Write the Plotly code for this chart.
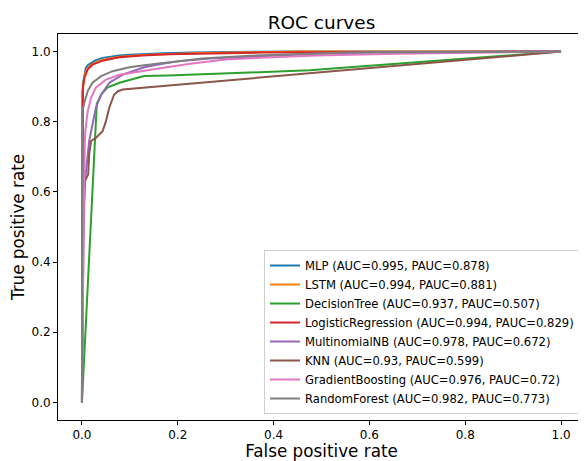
import plotly.graph_objects as go

# ---- data ----
models = ["MLP", "LSTM", "DecisionTree", "LogisticRegression",
          "MultinomialNB", "KNN", "GradientBoosting", "RandomForest"]
auc = ["0.995", "0.994", "0.937", "0.994", "0.978", "0.93", "0.976", "0.982"]
pauc = ["0.878", "0.881", "0.507", "0.829", "0.672", "0.599", "0.72", "0.773"]
colors = ["#1f77b4", "#ff7f0e", "#2ca02c", "#d62728",
          "#9467bd", "#8c564b", "#e377c2", "#7f7f7f"]

mlp_fpr = [0, 0, 0.001, 0.003, 0.005, 0.008, 0.012, 0.019, 0.028, 0.043, 0.06, 0.078, 0.1, 0.126, 0.17, 0.23, 0.3, 0.45, 1.0]
mlp_tpr = [0, 0.80, 0.88, 0.915, 0.935, 0.953, 0.961, 0.968, 0.975, 0.982, 0.986, 0.989, 0.991, 0.993, 0.995, 0.997, 0.999, 1.0, 1.0]

lstm_fpr = [0, 0, 0.001, 0.003, 0.006, 0.01, 0.016, 0.025, 0.04, 0.06, 0.08, 0.126, 0.18, 0.25, 0.35, 0.46, 1.0]
lstm_tpr = [0, 0.70, 0.86, 0.91, 0.935, 0.948, 0.959, 0.966, 0.975, 0.981, 0.985, 0.99, 0.993, 0.996, 0.998, 1.0, 1.0]

dt_fpr = [0, 0.031, 0.04, 0.053, 0.078, 0.106, 0.13, 0.18, 0.232, 0.30, 0.37, 0.475, 1.0]
dt_tpr = [0, 0.852, 0.877, 0.897, 0.911, 0.922, 0.93, 0.932, 0.934, 0.937, 0.941, 0.947, 1.0]

lr_fpr = [0, 0.001, 0.001, 0.002, 0.005, 0.012, 0.022, 0.043, 0.078, 0.126, 0.18, 0.26, 0.37, 0.5, 0.62, 1.0]
lr_tpr = [0, 0.55, 0.80, 0.897, 0.925, 0.949, 0.963, 0.974, 0.984, 0.989, 0.992, 0.995, 0.997, 0.998, 0.999, 1.0]

nb_fpr = [0, 0.002, 0.005, 0.012, 0.015, 0.022, 0.029, 0.04, 0.057, 0.085, 0.13, 0.1625, 0.2, 0.267, 0.315, 0.37, 0.489, 0.62, 0.8, 1.0]
nb_tpr = [0, 0.45, 0.61, 0.707, 0.745, 0.792, 0.84, 0.877, 0.911, 0.934, 0.955, 0.964, 0.972, 0.980, 0.983, 0.988, 0.994, 0.998, 0.999, 1.0]

knn_fpr = [0, 0.002, 0.003, 0.006, 0.013, 0.015, 0.019, 0.029, 0.043, 0.05, 0.057, 0.067, 0.075, 0.085, 1.0]
knn_tpr = [0, 0.35, 0.47, 0.63, 0.65, 0.707, 0.745, 0.754, 0.773, 0.801, 0.84, 0.877, 0.887, 0.892, 1.0]

gb_fpr = [0, 0.002, 0.004, 0.006, 0.007, 0.012, 0.019, 0.029, 0.05, 0.078, 0.13, 0.17, 0.23, 0.3, 0.37, 0.489, 0.66, 0.8, 1.0]
gb_tpr = [0, 0.40, 0.55, 0.74, 0.773, 0.83, 0.868, 0.897, 0.92, 0.934, 0.946, 0.954, 0.966, 0.977, 0.982, 0.989, 0.994, 0.997, 1.0]

rf_fpr = [0, 0, 0.001, 0.005, 0.012, 0.022, 0.04, 0.064, 0.099, 0.13, 0.17, 0.25, 0.35, 0.45, 0.558, 0.7, 0.85, 1.0]
rf_tpr = [0, 0.5, 0.83, 0.854, 0.887, 0.911, 0.93, 0.944, 0.955, 0.961, 0.968, 0.98, 0.988, 0.993, 0.997, 0.998, 0.999, 1.0]

fprs = [mlp_fpr, lstm_fpr, dt_fpr, lr_fpr, nb_fpr, knn_fpr, gb_fpr, rf_fpr]
tprs = [mlp_tpr, lstm_tpr, dt_tpr, lr_tpr, nb_tpr, knn_tpr, gb_tpr, rf_tpr]

tick_vals = [0.0, 0.2, 0.4, 0.6, 0.8, 1.0]
tick_text = ["0.0", "0.2", "0.4", "0.6", "0.8", "1.0"]

FONT = "DejaVu Sans"

fig = go.Figure()
for name, a, p, c, fx, ty in zip(models, auc, pauc, colors, fprs, tprs):
    fig.add_trace(go.Scatter(
        x=fx, y=ty, mode="lines",
        name=f"{name} (AUC={a}, PAUC={p})",
        line=dict(color=c, width=2),
    ))

axis_common = dict(
    range=[-0.05, 1.05], tickvals=tick_vals, ticktext=tick_text,
    showline=True, mirror=True, linecolor="black", linewidth=1,
    ticks="outside", ticklen=4, tickwidth=1, tickcolor="black",
    showgrid=False, zeroline=False, automargin=False,
    tickfont=dict(family=FONT, size=12, color="black"),
)

# the page body adds an 8px offset; the figure is sized to fill the rest
W, H = 578, 453
fig.update_layout(
    width=W, height=H,
    margin=dict(l=50, r=1, t=26, b=41),
    paper_bgcolor="white", plot_bgcolor="white",
    font=dict(family=FONT, color="black"),
    title=dict(text="ROC curves", x=0.5, xref="paper", xanchor="center",
               y=1 - 15 / H, yref="container", yanchor="middle",
               font=dict(family=FONT, size=18.5, color="black")),
    xaxis=dict(axis_common, title=dict(text="False positive rate", standoff=5,
                                       font=dict(family=FONT, size=16.8))),
    yaxis=dict(axis_common, title=dict(text="True positive rate", standoff=4,
                                       font=dict(family=FONT, size=16.8))),
    legend=dict(x=0.9905, xanchor="right", y=0.0155, yanchor="bottom",
                bgcolor="white", bordercolor="#d0d0d0", borderwidth=1,
                font=dict(family=FONT, size=11.6, color="black"),
                tracegroupgap=0, itemwidth=30),
    showlegend=True,
)

fig.write_html("out.html")
